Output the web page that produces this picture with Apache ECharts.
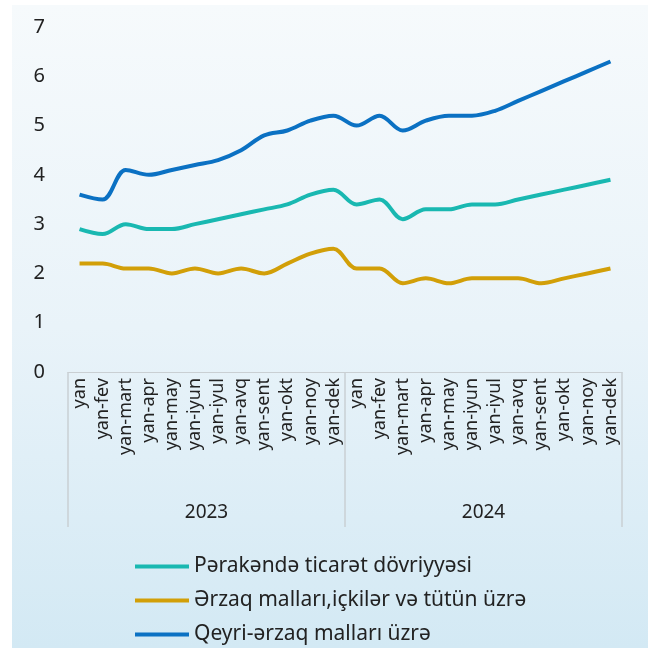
<!DOCTYPE html>
<html>
<head>
<meta charset="utf-8">
<script src="https://cdn.jsdelivr.net/npm/echarts@6/dist/echarts.min.js"></script>
<style>
    html, body { margin: 0; padding: 0; background: #ffffff; }
    .panel {
        position: absolute;
        left: 12px;
        top: 5px;
        width: 636px;
        height: 643px;
        background: linear-gradient(180deg, #f6fafc 0%, #e9f3f9 50%, #d3e9f4 100%);
    }
    #chart {
        position: absolute;
        left: 0;
        top: 0;
        width: 648px;
        height: 660px;
    }
</style>
</head>
<body>
<div class="panel"></div>
<div id="chart"></div>
<script>
var months = ["yan", "yan-fev", "yan-mart", "yan-apr", "yan-may", "yan-iyun",
    "yan-iyul", "yan-avq", "yan-sent", "yan-okt", "yan-noy", "yan-dek"];
var years = ["2023", "2024"];
var categories = months.concat(months);

var seriesNames = [
    "Pərakəndə ticarət dövriyyəsi",
    "Ərzaq malları,içkilər və tütün üzrə",
    "Qeyri-ərzaq malları üzrə"
];
var retail = [2.9, 2.8, 3.0, 2.9, 2.9, 3.0, 3.1, 3.2, 3.3, 3.4, 3.6, 3.7,
    3.4, 3.5, 3.1, 3.3, 3.3, 3.4, 3.4, 3.5, 3.6, 3.7, 3.8, 3.9];
var food = [2.2, 2.2, 2.1, 2.1, 2.0, 2.1, 2.0, 2.1, 2.0, 2.2, 2.4, 2.5,
    2.1, 2.1, 1.8, 1.9, 1.8, 1.9, 1.9, 1.9, 1.8, 1.9, 2.0, 2.1];
var nonFood = [3.6, 3.5, 4.1, 4.0, 4.1, 4.2, 4.3, 4.5, 4.8, 4.9, 5.1, 5.2,
    5.0, 5.2, 4.9, 5.1, 5.2, 5.2, 5.3, 5.5, 5.7, 5.9, 6.1, 6.3];
var colors = ["#19b8b1", "#d29f08", "#0b71c3"];

var chart = echarts.init(document.getElementById("chart"));
var font = "Noto Sans";

var option = {
    color: colors,
    textStyle: {fontFamily: font},
    grid: {left: 68, right: 26, top: 27, bottom: 288},
    legend: {
        orient: "vertical",
        left: 130,
        top: 551,
        height: 105,
        icon: "rect",
        itemWidth: 54,
        itemHeight: 4,
        itemGap: 13,
        itemTextGap: 5,
        textStyle: {fontFamily: font, fontSize: 21, color: "#222222"},
        data: seriesNames
    },
    xAxis: [{
        type: "category",
        data: categories,
        axisLine: {lineStyle: {color: "#c9cfd3", width: 1}},
        axisTick: {show: false},
        axisLabel: {
            interval: 0,
            rotate: 90,
            margin: 6,
            fontFamily: font,
            fontSize: 18,
            color: "#222222"
        }
    }, {
        type: "category",
        data: years,
        position: "bottom",
        axisLine: {show: false},
        axisTick: {
            show: true,
            length: 155,
            interval: 0,
            lineStyle: {color: "#c9cfd3", width: 1.5}
        },
        axisLabel: {
            margin: 131,
            fontFamily: font,
            fontSize: 19,
            color: "#222222"
        }
    }],
    yAxis: {
        type: "value",
        min: 0,
        max: 7,
        interval: 1,
        axisLine: {show: false},
        axisTick: {show: false},
        splitLine: {show: false},
        axisLabel: {margin: 23, fontFamily: font, fontSize: 20, color: "#222222"}
    },
    series: [
        {name: seriesNames[0], type: "line", data: retail},
        {name: seriesNames[1], type: "line", data: food},
        {name: seriesNames[2], type: "line", data: nonFood}
    ].map(function (s) {
        s.smooth = 0.35;
        s.symbol = "none";
        s.lineStyle = {width: 4};
        s.xAxisIndex = 0;
        return s;
    })
};
chart.setOption(option);
</script>
</body>
</html>
